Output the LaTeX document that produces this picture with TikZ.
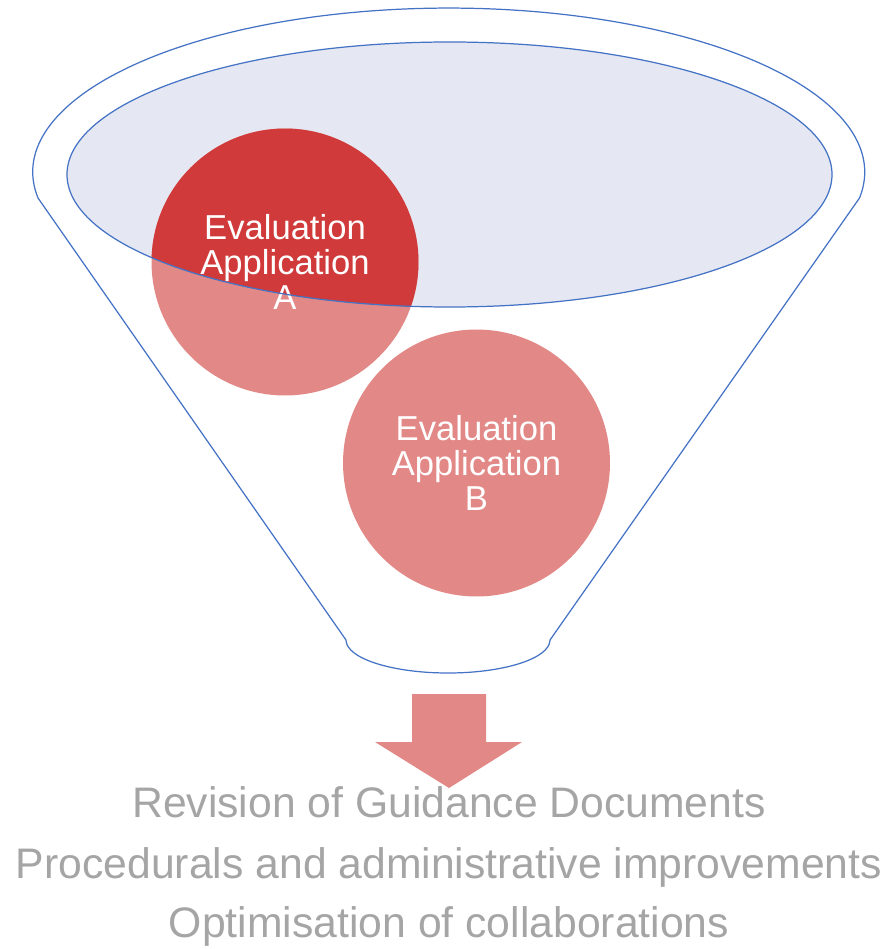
\documentclass[tikz,border=0pt]{standalone}
\usepackage{fontspec}
\setmainfont{Liberation Sans}

\definecolor{funnelblue}{HTML}{4472C4}
\definecolor{rimfill}{HTML}{E5E8F3}
\definecolor{appdark}{HTML}{D13A3A}
\definecolor{apppink}{HTML}{E28886}
\definecolor{resultgray}{HTML}{A5A5A5}

\begin{document}
\begin{tikzpicture}[x=0.02cm,y=-0.02cm]
\def \rimrx {382.5}
\def \rimry {132.5}
\tikzset{evalcircle/.style = {shape = circle, fill = apppink, minimum size = 5.34cm, inner sep = 0pt,
                              text = white, align = center, font = \fontsize{19.7}{20}\selectfont}}
\tikzset{resulttext/.style = {text = resultgray, anchor = base, inner sep = 0pt,
                              font = \fontsize{24.3}{28}\selectfont}}
\tikzset{funnelline/.style = {draw = funnelblue, line width = 0.7pt}}
\useasboundingbox (0,0) rectangle (894,949);

% funnel body
   \draw[funnelline] (38,198) arc[start angle=170.9, end angle=369.1, x radius=416, y radius=164]
      -- (550,640) arc[start angle=0, end angle=180, x radius=102, y radius=33] -- cycle;

% mouth of the funnel
   \coordinate (rim) at (449.5,174.5);
   \fill[rimfill] (rim) ellipse [x radius=\rimrx, y radius=\rimry];

   \node[evalcircle, path picture={\fill[appdark] (rim) ellipse [x radius=\rimrx, y radius=\rimry];}]
      (appA) at (285,262) {Evaluation\\Application\\A};
   \draw[funnelline] (rim) ellipse [x radius=\rimrx, y radius=\rimry];

   \node[evalcircle] (appB) at (476.5,463) {Evaluation\\Application\\B};

% output arrow
   \fill[apppink] (412,694) -- (486,694) -- (486,742) -- (522,742) -- (449,788)
      -- (375,742) -- (412,742) -- cycle;

   \node[resulttext] (revision) at (449,817) {Revision of Guidance Documents};
   \node[resulttext] (procedures) at (449,878) {Procedurals and administrative improvements};
   \node[resulttext] (optimisation) at (449,937) {Optimisation of collaborations};

\end{tikzpicture}
\end{document}
